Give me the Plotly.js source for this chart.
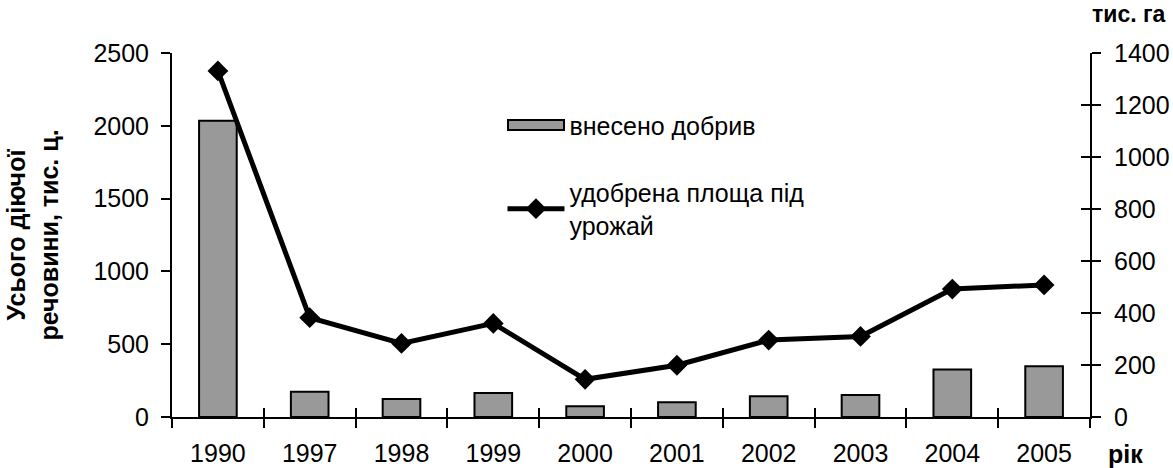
<!DOCTYPE html>
<html>
<head>
<meta charset="utf-8">
<script src="https://cdn.plot.ly/plotly-3.0.1.min.js"></script>
<style>
  html, body { margin: 0; padding: 0; background: #fff; }
  #chart { width: 1173px; height: 468px; }
</style>
</head>
<body>
<div id="chart"></div>
<script>
// Роки
const years = ['1990', '1997', '1998', '1999', '2000', '2001', '2002', '2003', '2004', '2005'];
// Внесено добрив, тис. ц діючої речовини (ліва вісь)
const fertilizer = [2035, 174, 124, 165, 74, 101, 142, 151, 326, 349];
// Удобрена площа під урожай, тис. га (права вісь)
const fertilizedArea = [1331, 382, 283, 360, 145, 199, 296, 310, 492, 508];

const barName = 'внесено добрив';
const lineName = 'удобрена площа під<br>урожай';
const leftTitle = 'Усього діючої<br>речовини, тис. ц.';
const rightUnit = 'тис. га';
const xUnit = 'рік';

const FONT = 'Liberation Sans, Arial, sans-serif';
const FS = 25;

const traces = [
  {
    type: 'bar',
    x: years,
    y: fertilizer,
    name: barName,
    legendgroup: 'a',
    marker: { color: '#999999', line: { color: '#000', width: 2 } },
    xaxis: 'x',
    yaxis: 'y'
  },
  {
    type: 'scatter',
    mode: 'lines+markers',
    x: years,
    y: fertilizedArea,
    name: lineName,
    legendgroup: 'b',
    line: { color: '#000', width: 5 },
    marker: { symbol: 'diamond', size: 16, color: '#000' },
    xaxis: 'x',
    yaxis: 'y2'
  }
];

const layout = {
  width: 1173,
  height: 468,
  margin: { l: 172, r: 83, t: 53, b: 51 },
  paper_bgcolor: '#fff',
  plot_bgcolor: '#fff',
  font: { family: FONT, size: FS, color: '#000' },
  bargap: 0.59,
  showlegend: true,
  legend: {
    x: 0.36, y: 0.865, xanchor: 'left', yanchor: 'top',
    bgcolor: 'rgba(0,0,0,0)',
    font: { family: FONT, size: FS, color: '#000' },
    itemwidth: 57,
    tracegroupgap: 32,
    traceorder: 'grouped'
  },
  xaxis: {
    type: 'category',
    categoryorder: 'array',
    categoryarray: years,
    range: [-0.5, 9.5],
    showline: true, linecolor: '#000', linewidth: 2,
    ticks: 'outside', ticklen: 9, tickwidth: 2, tickcolor: '#000',
    tickson: 'boundaries',
    showgrid: false, zeroline: false,
    tickfont: { family: FONT, size: FS },
    ticklabelstandoff: 13,
    fixedrange: true
  },
  xaxis2: {
    overlaying: 'x',
    type: 'linear',
    range: [-0.5, 9.5],
    tick0: 0.5, dtick: 1,
    ticks: 'inside', ticklen: 9, tickwidth: 2, tickcolor: '#000',
    showticklabels: false, showgrid: false, zeroline: false, showline: false,
    anchor: 'y'
  },
  yaxis: {
    range: [0, 2500],
    dtick: 500,
    showline: true, linecolor: '#000', linewidth: 2,
    ticks: 'outside', ticklen: 9, tickwidth: 2, tickcolor: '#000',
    showgrid: false, zeroline: false,
    tickfont: { family: FONT, size: FS },
    ticklabelstandoff: 7,
    title: {
      text: leftTitle,
      font: { family: FONT, size: FS, color: '#000', weight: 'bold' },
      standoff: 28
    }
  },
  yaxis2: {
    overlaying: 'y',
    side: 'right',
    range: [0, 1400],
    dtick: 200,
    showline: true, linecolor: '#000', linewidth: 2,
    ticks: 'outside', ticklen: 9, tickwidth: 2, tickcolor: '#000',
    showgrid: false, zeroline: false,
    tickfont: { family: FONT, size: FS },
    ticklabelstandoff: 8
  },
  yaxis3: {
    overlaying: 'y',
    side: 'right',
    range: [0, 1400],
    dtick: 200,
    ticks: 'inside', ticklen: 9, tickwidth: 2, tickcolor: '#000',
    showticklabels: false, showgrid: false, zeroline: false, showline: false
  },
  annotations: [
    {
      text: '<b>' + rightUnit + '</b>', xref: 'paper', yref: 'paper',
      x: 1.0, y: 1.0, xanchor: 'left', yanchor: 'bottom', yshift: 24, xshift: 0,
      showarrow: false, font: { family: FONT, size: 23, color: '#000' }
    },
    {
      text: '<b>' + xUnit + '</b>', xref: 'paper', yref: 'paper',
      x: 1.0, y: 0, xanchor: 'left', yanchor: 'top', yshift: -21, xshift: 16,
      showarrow: false, font: { family: FONT, size: FS, color: '#000' }
    }
  ]
};

// порожні траси, щоб додаткові осі з поділками були намальовані
traces.push({ type: 'scatter', x: [], y: [], xaxis: 'x2', yaxis: 'y', showlegend: false, hoverinfo: 'skip' });
traces.push({ type: 'scatter', x: [], y: [], xaxis: 'x', yaxis: 'y3', showlegend: false, hoverinfo: 'skip' });

Plotly.newPlot('chart', traces, layout, { staticPlot: true, displayModeBar: false }).then(function (gd) {
  // широкий прямокутник-символ для стовпчиків у легенді
  const items = gd.querySelectorAll('.legend .traces');
  if (items.length) {
    const p = items[0].querySelector('.legendpoints path');
    if (p) p.setAttribute('d', 'M28,5H-28V-5H28Z');
  }
});
</script>
</body>
</html>
